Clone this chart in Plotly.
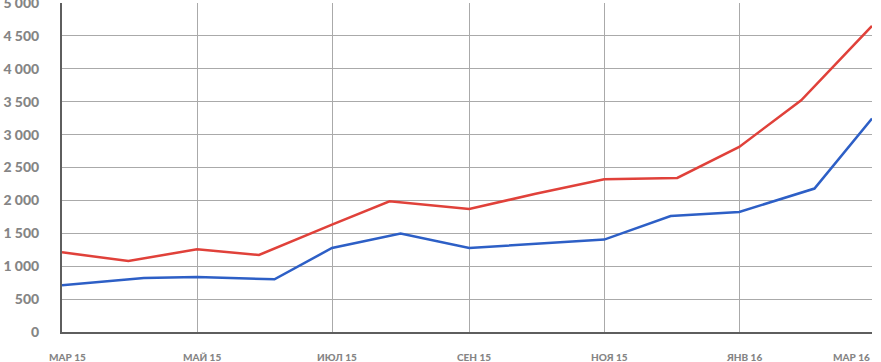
import plotly.graph_objects as go

# Red series (dates, values)
red_dates = ["2015-03-01", "2015-03-31", "2015-05-01", "2015-05-29", "2015-07-01",
             "2015-07-27", "2015-09-01", "2015-10-01", "2015-11-01", "2015-12-04",
             "2016-01-01", "2016-01-29", "2016-03-01"]
red_values = [1211, 1079, 1257, 1170, 1632, 1987, 1870, 2100, 2321, 2341, 2812, 3522, 4651]

# Blue series
blue_dates = ["2015-03-01", "2015-04-07", "2015-05-01", "2015-06-05", "2015-07-01",
              "2015-08-01", "2015-09-01", "2015-10-01", "2015-11-01", "2015-12-01",
              "2016-01-01", "2016-02-04", "2016-03-01"]
blue_values = [710, 821, 836, 801, 1277, 1496, 1277, 1340, 1404, 1763, 1824, 2180, 3244]

# Axis ticks
x_tick_vals = ["2015-03-01", "2015-05-01", "2015-07-01", "2015-09-01",
               "2015-11-01", "2016-01-01", "2016-03-01"]
x_tick_text = ["МАР 15", "МАЙ 15", "ИЮЛ 15", "СЕН 15", "НОЯ 15", "ЯНВ 16", "МАР 16"]
y_tick_vals = [0, 500, 1000, 1500, 2000, 2500, 3000, 3500, 4000, 4500, 5000]

RED = "#e0413a"
BLUE = "#2d5fc6"
LABEL = "#858585"
FONT = "Lato"

fig = go.Figure()
fig.add_trace(go.Scatter(x=red_dates, y=red_values, mode="lines",
                         line=dict(color=RED, width=2.5), showlegend=False,
                         cliponaxis=False))
fig.add_trace(go.Scatter(x=blue_dates, y=blue_values, mode="lines",
                         line=dict(color=BLUE, width=2.5), showlegend=False,
                         cliponaxis=False))

for i, (v, t) in enumerate(zip(x_tick_vals, x_tick_text)):
    last = i == len(x_tick_vals) - 1
    fig.add_annotation(x=v, y=0, xref="x", yref="y", text=t, showarrow=False,
                       xanchor="right" if last else "center", yanchor="top",
                       xshift=0 if last else 5, yshift=-17,
                       font=dict(family=FONT, size=10, color=LABEL, weight=900))

fig.update_layout(
    width=881, height=362,
    margin=dict(l=62, r=9, t=3, b=30, autoexpand=False),
    paper_bgcolor="white", plot_bgcolor="white",
    separators=", ",
    font=dict(family=FONT),
    xaxis=dict(
        type="date",
        range=["2015-03-01", "2016-03-01"],
        tickvals=x_tick_vals,
        showticklabels=False,
        showgrid=True, gridcolor="#aaaaaa", gridwidth=1,
        showline=True, linecolor="#5e5e5e", linewidth=2,
        zeroline=False, ticks="", automargin=False,
    ),
    yaxis=dict(
        range=[0, 5000],
        tickvals=y_tick_vals,
        tickformat=",d",
        showgrid=True, gridcolor="#aaaaaa", gridwidth=1,
        showline=True, linecolor="#5e5e5e", linewidth=2,
        zeroline=False, ticks="", automargin=False,
        ticklabelstandoff=18,
        ticklabeloverflow="allow",
        tickfont=dict(family=FONT, size=14, color=LABEL, weight=900),
    ),
)

fig.write_html(
    "out.html",
    config={"displayModeBar": False},
    post_script="document.documentElement.style.margin='0';"
                "document.body.style.margin='0';"
                "document.body.style.overflow='hidden';",
)
